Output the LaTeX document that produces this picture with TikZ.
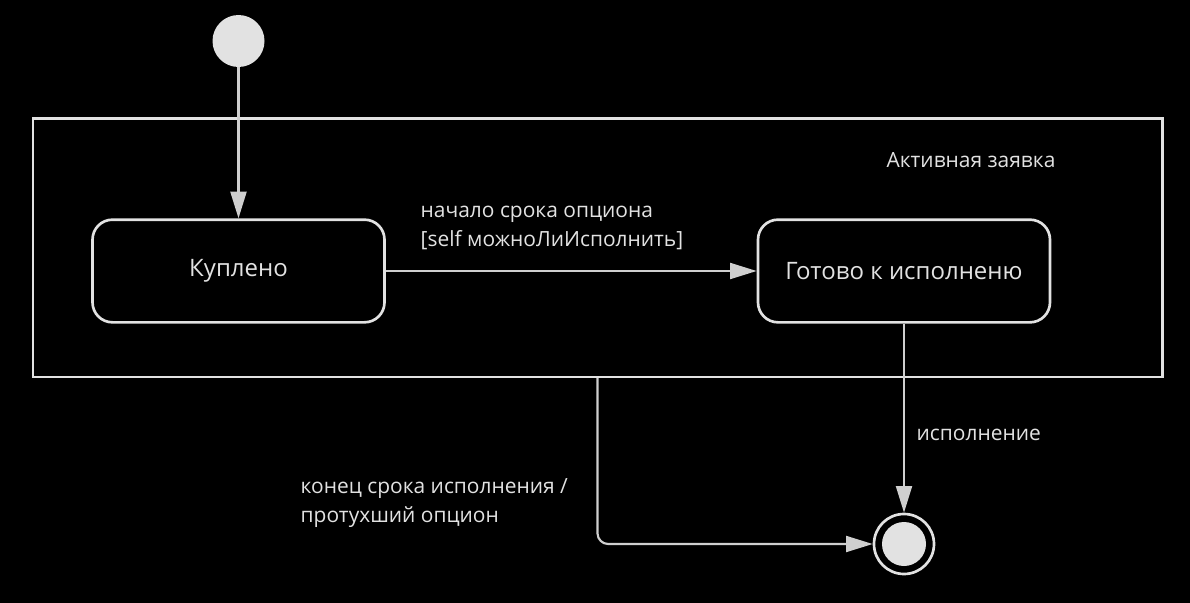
\documentclass[tikz,border=0pt]{standalone}
\usepackage{fontspec}
\setmainfont{Open Sans}
\usetikzlibrary{positioning}
\usetikzlibrary{arrows.meta}
\definecolor{edge}{HTML}{E2E2E2}
\definecolor{wire}{HTML}{CFCFCF}

\begin{document}
\begin{tikzpicture}[x=0.75pt, y=-0.75pt, font=\fontsize{15.7}{21.5}\selectfont, text=edge,
  state/.style={draw=edge, line width=2pt, rounded corners=15pt, minimum width=219pt, minimum height=77pt, font=\fontsize{18}{22}\selectfont},
  trans/.style={-{Triangle[length=20pt, width=12pt]}, draw=wire, line width=1.6pt}]
\fill[black] (0,0) rectangle (1190,603);
\useasboundingbox (0,0) rectangle (1190,603);

\node[draw=edge, line width=2pt, minimum width=847pt, minimum height=194pt] (active) at (597.5,247.5) {};
\node (activelabel) at (971,160) {Активная заявка};

\node[circle, fill=edge, minimum size=39pt, inner sep=0pt] (start) at (238.5,41) {};
\node[state] (bought) at (238.5,271) {Куплено};
\node[state] (ready) at (904,271) {Готово к исполненю};
\node[circle, draw=edge, line width=2pt, minimum size=45pt, inner sep=0pt] (stop) at (904,544) {};
\node[circle, fill=edge, minimum size=33pt, inner sep=0pt] (stopdot) at (stop.center) {};

\draw[trans] (start) -- (bought);
\draw[trans] (bought) -- (ready);
\draw[trans] (ready) -- (stop);
\draw[trans, rounded corners=8pt] (active.south) |- (stop.west);

\node[anchor=west, align=left] (startlabel) at (416,228) {начало срока опциона\\ {[}self можноЛиИсполнить{]}};
\node[anchor=west] (donelabel) at (912,435) {исполнение};
\node[anchor=west, align=left] (endlabel) at (296,503) {конец срока исполнения /\\ протухший опцион};
\end{tikzpicture}
\end{document}
